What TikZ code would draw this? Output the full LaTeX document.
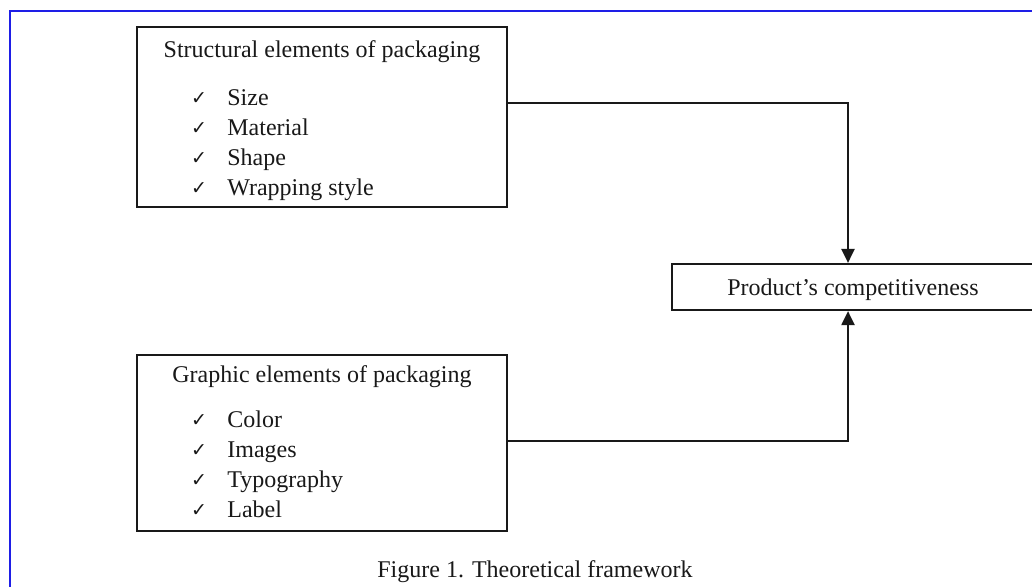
\documentclass[tikz,border=0pt]{standalone}
\usepackage{fontspec}
\setmainfont{Liberation Serif}
\newfontfamily\symfont{DejaVu Sans Bold}
\usetikzlibrary{arrows.meta}
\begin{document}
\begin{tikzpicture}[x=0.5pt,y=-0.5pt,
  box/.style={draw=black!90,line width=1.1pt,minimum width=#1,inner sep=0pt},
  txt/.style={font=\fontsize{12}{14}\selectfont,inner sep=0pt,anchor=base,text=black!90},
  chk/.style={font=\symfont\fontsize{9.5}{10}\selectfont,inner sep=0pt,anchor=base,text=black!90},
  item/.style={font=\fontsize{12}{14}\selectfont,inner sep=0pt,anchor=base west,text=black!90},
  conn/.style={draw=black!90,line width=1.1pt,-{Triangle[length=7pt,width=6.5pt]}}]
\useasboundingbox (0,0) rectangle (1032,586);
\clip (0,0) rectangle (1032,586);
\fill[white] (0,0) rectangle (1032,586);
\draw[draw={rgb,255:red,30;green,30;blue,230},line width=1pt] (9.5,700) -- (9.5,11) -- (1100,11);
% boxes
\node[box=185pt,minimum height=90pt] (s) at (322,117) {};
\node[box=185pt,minimum height=88pt] (g) at (322,443) {};
\node[box=186.5pt,minimum height=23pt] (p) at (858.5,287) {};
% texts
\node[txt] (st) at (322,57) {Structural elements of packaging};
\node[chk] (sc1) at (199,104) {✓};
\node[chk] (sc2) at (199,134) {✓};
\node[chk] (sc3) at (199,164) {✓};
\node[chk] (sc4) at (199,194) {✓};
\node[item] (si1) at (227,105) {Size};
\node[item] (si2) at (227,135) {Material};
\node[item] (si3) at (227,165) {Shape};
\node[item] (si4) at (227,195) {Wrapping style};
\node[txt] (gt) at (322,382) {Graphic elements of packaging};
\node[chk] (gc1) at (199,426) {✓};
\node[chk] (gc2) at (199,456) {✓};
\node[chk] (gc3) at (199,486) {✓};
\node[chk] (gc4) at (199,516) {✓};
\node[item] (gi1) at (227,427) {Color};
\node[item] (gi2) at (227,457) {Images};
\node[item] (gi3) at (227,487) {Typography};
\node[item] (gi4) at (227,517) {Label};
\node[txt] (pt) at (853,295) {Product’s competitiveness};
\node[txt] (cap) at (535,577) {Figure 1. Theoretical framework};
% connectors
\coordinate (col) at (848,0);
\coordinate (r1) at (0,103);
\coordinate (r2) at (0,441);
\draw[conn] (s.east |- r1) -| (col |- p.north);
\draw[conn] (g.east |- r2) -| (col |- p.south);
\end{tikzpicture}
\end{document}
